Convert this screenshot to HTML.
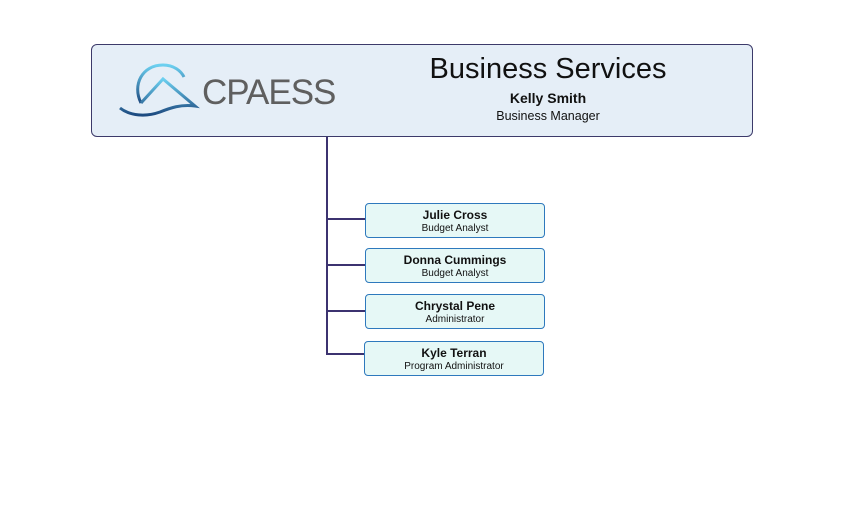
<!DOCTYPE html>
<html><head><style>
body{margin:0;width:860px;height:529px;background:#fff;position:relative;font-family:"Liberation Sans",sans-serif;overflow:hidden}
.top{position:absolute;left:91px;top:44px;width:660px;height:91px;background:#e5eef7;border:1.5px solid #3c3a6a;border-radius:6px}
.t1{position:absolute;left:316px;top:8px;width:280px;text-align:center;font-size:29px;color:#111}
.t2{position:absolute;left:316px;top:45px;width:280px;text-align:center;font-weight:bold;font-size:14px;color:#111}
.t3{position:absolute;left:316px;top:64px;width:280px;text-align:center;font-size:12.5px;color:#111}
.logo{position:absolute;left:110px;top:28px;font-size:35px;color:#5f5f5f;letter-spacing:-1px}
.box{position:absolute;width:178px;height:33px;background:#e6f8f6;border:1.5px solid #2e79bd;border-radius:4px;text-align:center}
.box b{display:block;font-size:12px;margin-top:4px;color:#111}
.box span{display:block;font-size:10px;color:#111;margin-top:1px}
.l{position:absolute;background:#3c3370}
</style></head><body>
<div class="top">
<svg style="position:absolute;left:26px;top:16px" width="85" height="58" viewBox="0 0 85 58">
<defs><linearGradient id="g" x1="0" y1="0" x2="0" y2="1"><stop offset="0" stop-color="#6cd0f0"/><stop offset="1" stop-color="#1d4a80"/></linearGradient></defs>
<path d="M23 42 C14 24 24 4 45 4 C56 4 63 10 66 16" fill="none" stroke="url(#g)" stroke-width="3"/>
<path d="M23 42 L45 18 L77 45 C63 43 52 47 42 51 C28 56 12 55 2 47" fill="none" stroke="url(#g)" stroke-width="3"/>
</svg>
<div class="logo">CPAESS</div>
<div class="t1">Business Services</div>
<div class="t2">Kelly Smith</div>
<div class="t3">Business Manager</div>
</div>
<div class="l" style="left:326px;top:137px;width:1.5px;height:218px"></div>
<div class="l" style="left:326px;top:218px;width:39px;height:1.5px"></div>
<div class="l" style="left:326px;top:264px;width:39px;height:1.5px"></div>
<div class="l" style="left:326px;top:310px;width:39px;height:1.5px"></div>
<div class="l" style="left:326px;top:353px;width:38px;height:1.5px"></div>
<div class="box" style="left:365px;top:203px"><b>Julie Cross</b><span>Budget Analyst</span></div>
<div class="box" style="left:365px;top:248px"><b>Donna Cummings</b><span>Budget Analyst</span></div>
<div class="box" style="left:365px;top:294px"><b>Chrystal Pene</b><span>Administrator</span></div>
<div class="box" style="left:364px;top:341px"><b>Kyle Terran</b><span>Program Administrator</span></div>
</body></html>
